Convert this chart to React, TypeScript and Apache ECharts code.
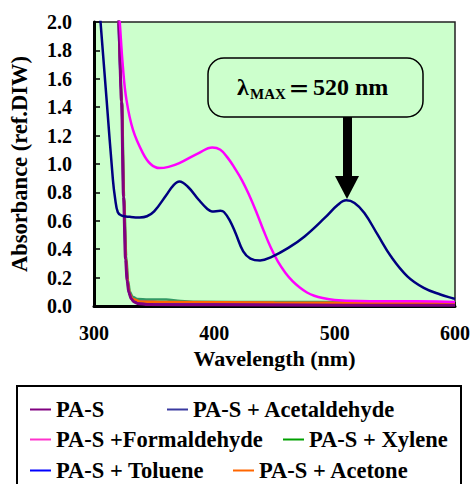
import React, { useEffect, useRef } from "react";
import * as echarts from "echarts";

const FONT = "'Liberation Serif', 'Times New Roman', serif";

const xTicks = [300, 400, 500, 600];

// [wavelength nm, absorbance]
const paS: number[][] = [
  [319.5, 2.15], [320.4, 2.0], [322.9, 1.44], [324.5, 0.77], [326.2, 0.33], [327.5, 0.18],
  [328.9, 0.095], [331, 0.05], [333, 0.03], [336, 0.018], [345, 0.01], [400, 0.008],
  [500, 0.006], [600, 0.005],
];
const acetaldehyde: number[][] = [
  [304.5, 2.1], [310.5, 1.45], [315.7, 0.89], [317.5, 0.76], [319.8, 0.66], [323, 0.636],
  [330, 0.628], [338, 0.624], [344, 0.632], [350, 0.666], [360, 0.78], [366, 0.85], [371, 0.877],
  [378, 0.84], [387, 0.748], [394, 0.685], [398, 0.666], [405, 0.67], [408, 0.662], [413, 0.6],
  [417.6, 0.514], [424, 0.385], [430, 0.334], [438, 0.32], [447.7, 0.346], [461.5, 0.409],
  [475, 0.49], [491.7, 0.62], [502.7, 0.713], [509.6, 0.744], [516.5, 0.725], [524.7, 0.655],
  [535.7, 0.502], [546.7, 0.35], [560.4, 0.209], [574, 0.128], [587.8, 0.081], [598.8, 0.053],
  [600, 0.05],
];
const formaldehyde: number[][] = [
  [320.5, 2.1], [321.4, 2.0], [324, 1.685], [327, 1.45], [332.4, 1.24], [340.6, 1.077],
  [347, 1.0], [354.4, 0.971], [362, 0.98], [370.9, 1.006], [387, 1.077], [398.3, 1.116],
  [405, 1.1], [411, 1.045], [417, 0.97], [423, 0.885], [429, 0.78], [435, 0.66], [441, 0.53],
  [447, 0.41], [453, 0.31], [459, 0.235], [465, 0.175], [471, 0.13], [477, 0.095], [483, 0.072],
  [490, 0.056], [500, 0.043], [520, 0.035], [550, 0.033], [585, 0.032], [600, 0.028],
];
const xylene: number[][] = [
  [320.5, 2.15], [323.2, 1.44], [325, 0.77], [326.8, 0.35], [328.3, 0.18], [329.8, 0.1],
  [332, 0.065], [336, 0.05], [345, 0.045], [360, 0.045], [372, 0.035], [385, 0.03],
  [450, 0.028], [520, 0.027], [600, 0.025],
];
const toluene: number[][] = [
  [320, 2.15], [323, 1.44], [324.7, 0.77], [326.5, 0.33], [328, 0.16], [329.5, 0.08],
  [332, 0.045], [338, 0.03], [360, 0.025], [450, 0.02], [600, 0.018],
];
const acetone: number[][] = [
  [320.2, 2.15], [323.1, 1.44], [324.8, 0.77], [326.6, 0.34], [328.1, 0.17], [329.6, 0.09],
  [332, 0.05], [338, 0.032], [360, 0.028], [450, 0.024], [600, 0.02],
];

const names = [
  "PA-S",
  "PA-S + Acetaldehyde",
  "PA-S +Formaldehyde",
  "PA-S + Xylene",
  "PA-S + Toluene",
  "PA-S + Acetone",
];
const lineColors = ["#800080", "#000080", "#ff00ff", "#339966", "#0000ff", "#ff6600"];
const legendColors = ["#800080", "#3a3aa0", "#ff33cc", "#00a000", "#0000ff", "#ff6600"];
const seriesData = [paS, acetaldehyde, formaldehyde, xylene, toluene, acetone];
const drawOrder = [3, 4, 5, 0, 2, 1];
const legendPos = [
  [30, 398], [167, 398], [30, 428], [283, 428], [30, 459], [233, 459],
];

export default function App() {
  const ref = useRef<HTMLDivElement>(null);
  useEffect(() => {
    document.body.style.margin = "0";
    const chart = echarts.init(ref.current!, undefined, { renderer: "svg" });
    const textBold = { fontFamily: FONT, fontWeight: "bold" as const, color: "#000" };
    chart.setOption({
      animation: false,
      textStyle: { fontFamily: FONT },
      grid: {
        left: 94, top: 22, width: 364, height: 284,
        show: true, backgroundColor: "#ccffcc", borderColor: "#222", borderWidth: 1.5,
      },
      xAxis: {
        type: "value", min: 300, max: 600, interval: 100,
        name: "Wavelength (nm)", nameLocation: "middle", nameGap: 41,
        nameTextStyle: { ...textBold, fontSize: 22 },
        axisLine: { show: true, lineStyle: { color: "#000", width: 3 } },
        axisTick: { show: true, inside: true, length: 4, lineStyle: { color: "#000", width: 1.5 } },
        axisLabel: { ...textBold, fontSize: 20, margin: 17, customValues: xTicks },
        splitLine: { show: false },
      },
      yAxis: {
        type: "value", min: 0, max: 2, interval: 0.2,
        name: "Absorbance (ref.DIW)", nameLocation: "middle", nameGap: 63, nameRotate: 90,
        nameTextStyle: { ...textBold, fontSize: 22.5 },
        axisLine: { show: true, lineStyle: { color: "#000", width: 3 } },
        axisTick: { show: true, inside: true, length: 6, lineStyle: { color: "#000", width: 1.5 } },
        axisLabel: { ...textBold, fontSize: 20, margin: 22, formatter: (v: number) => v.toFixed(1) },
        splitLine: { show: false },
      },
      legend: names.map((n, i) => ({
        left: legendPos[i][0], top: legendPos[i][1], padding: 0,
        icon: "rect", itemWidth: 21, itemHeight: 2, selectedMode: false,
        textStyle: { ...textBold, fontSize: 22.5 },
        data: [{ name: n, itemStyle: { color: legendColors[i] } }],
      })),
      series: drawOrder.map((i) => {
        const steep = i === 0 || i >= 3;
        return {
          name: names[i], type: "line", data: seriesData[i], showSymbol: false,
          smooth: steep ? 0.3 : 0.4, smoothMonotone: steep ? "x" : undefined, clip: true,
          lineStyle: { color: lineColors[i], width: i === 0 ? 3 : 2.5 },
          itemStyle: { color: lineColors[i] },
        };
      }),
      graphic: [
        { type: "rect", shape: { x: 17, y: 386, width: 444, height: 110 }, style: { fill: "none", stroke: "#000", lineWidth: 2 } },
        { type: "rect", z: 10, shape: { x: 208, y: 58, width: 215, height: 59, r: 16 }, style: { fill: "#ccffcc", stroke: "#000", lineWidth: 1.5 } },
        { type: "rect", z: 10, shape: { x: 343, y: 117, width: 9, height: 60 }, style: { fill: "#000" } },
        { type: "polygon", z: 10, shape: { points: [[335, 176], [359, 176], [347, 199]] }, style: { fill: "#000" } },
        { type: "text", z: 11, x: 237, y: 87, style: { text: "λ", font: `bold 24px ${FONT}`, fill: "#000", textVerticalAlign: "middle" } },
        { type: "text", z: 11, x: 250, y: 94, style: { text: "MAX", font: `bold 15px ${FONT}`, fill: "#000", textVerticalAlign: "middle" } },
        { type: "text", z: 11, x: 288, y: 87, style: { text: "＝", font: `bold 22px 'Noto Sans CJK SC', sans-serif`, fill: "#000", textVerticalAlign: "middle" } },
        { type: "text", z: 11, x: 313, y: 87, style: { text: "520 nm", font: `bold 24px ${FONT}`, fill: "#000", textVerticalAlign: "middle" } },
      ],
    });
    return () => chart.dispose();
  }, []);
  return <div ref={ref} style={{ position: "absolute", left: 0, top: 0, width: 473, height: 484 }} />;
}
